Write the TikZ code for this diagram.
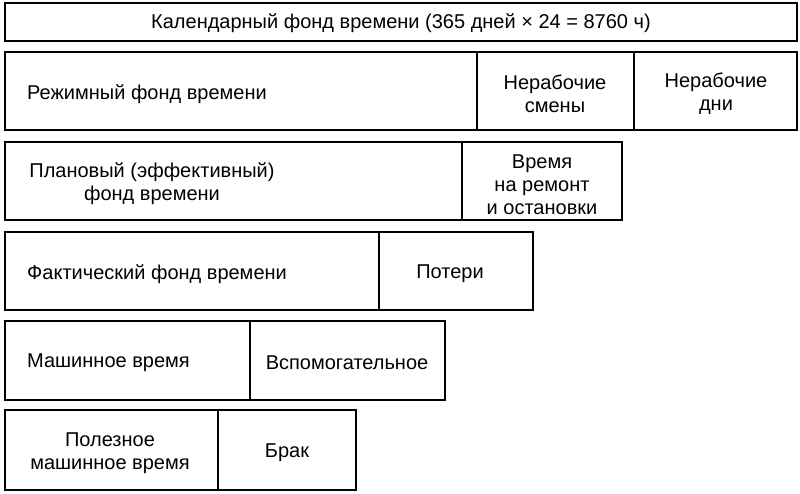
\documentclass[tikz,border=0pt]{standalone}
\usepackage{fontspec}
\setmainfont{Liberation Sans}
\begin{document}
\begin{tikzpicture}[x=1pt,y=-1pt,
  cell/.style={draw,line width=1.2pt},
  lbl/.style={font=\fontsize{20}{23}\selectfont,align=center,inner sep=0pt}]
\useasboundingbox (0,0) rectangle (800,494);
\draw[cell] (5,3) rectangle (797,41);
\node[lbl] (t1) at (401,23) {Календарный фонд времени (365 дней × 24 = 8760 ч)};
\draw[cell] (5,52) rectangle (477,130);
\draw[cell] (477,52) rectangle (634,130);
\draw[cell] (634,52) rectangle (797,130);
\node[lbl,anchor=west] (t2) at (27,94) {Режимный фонд времени};
\node[lbl] (t3) at (555,94) {Нерабочие\\смены};
\node[lbl] (t4) at (716,94) {Нерабочие\\дни};
\draw[cell] (5,142) rectangle (462,220);
\draw[cell] (462,142) rectangle (622,220);
\node[lbl] (t5) at (152,184) {Плановый (эффективный)\\фонд времени};
\node[lbl] (t6) at (542,185) {Время\\на ремонт\\и остановки};
\draw[cell] (5,232) rectangle (379,310);
\draw[cell] (379,232) rectangle (533,310);
\node[lbl,anchor=west] (t7) at (27,274) {Фактический фонд времени};
\node[lbl] (t8) at (450,274) {Потери};
\draw[cell] (5,321) rectangle (250,400);
\draw[cell] (250,321) rectangle (445,400);
\node[lbl,anchor=west] (t9) at (27,363) {Машинное время};
\node[lbl] (t10) at (347,363) {Вспомогательное};
\draw[cell] (5,410) rectangle (218,490);
\draw[cell] (218,410) rectangle (356,490);
\node[lbl] (t11) at (110,453) {Полезное\\машинное время};
\node[lbl] (t12) at (287,453) {Брак};
\end{tikzpicture}
\end{document}
